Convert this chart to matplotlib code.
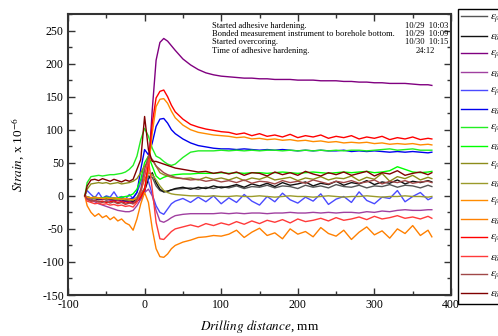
import matplotlib
matplotlib.use('Agg')
import matplotlib.pyplot as plt
from matplotlib.ticker import MultipleLocator

plt.rcParams['font.family'] = ['Liberation Serif', 'DejaVu Serif']
plt.rcParams['mathtext.fontset'] = 'stix'
plt.rcParams['axes.unicode_minus'] = False

# drilling distance (mm)
x = ([-78, -75, -70, -65, -60, -55, -50, -45, -40, -35, -30, -25, -20, -15, -10, -5]
     + [0, 5, 10, 15, 20, 25, 30, 35, 40, 50, 60, 70, 80, 90, 100]
     + [110, 120, 130, 140, 150, 160, 170, 180, 190, 200, 210, 220, 230, 240, 250,
        260, 270, 280, 290, 300, 310, 320, 330, 340, 350, 360, 370, 375])

# strain values (x 10^-6)
e_r1 = ([0, -2, -4, -3, -5, -4, -6, -5, -4, -6, -5, -7, -6, -8, -4, 2]
        + [12, 30, 28, 15, 8, 6, 7, 9, 10, 11, 12, 10, 13, 11, 14]
        + [12, 15, 11, 14, 13, 16, 12, 15, 14, 11, 16, 13, 15, 12, 17, 14, 13, 16, 12, 15,
           14, 17, 13, 16, 15, 12, 16, 14])
e_t1 = ([0, -3, -5, -4, -6, -5, -4, -6, -5, -7, -6, -8, -7, -9, -5, 0]
        + [8, 25, 35, 20, 10, 6, 7, 9, 11, 13, 10, 13, 11, 15, 12]
        + [14, 17, 13, 18, 15, 19, 14, 20, 16, 18, 21, 15, 19, 17, 22, 16, 20, 18, 23, 17,
           21, 19, 24, 18, 22, 20, 23, 21])
e_r2 = ([0, -2, -3, -4, -5, -5, -6, -6, -7, -7, -8, -8, -9, -10, -8, -5]
        + [5, 40, 130, 205, 232, 238, 234, 227, 220, 207, 198, 191, 186, 183, 181]
        + [180, 179, 178, 178, 177, 177, 176, 176, 176, 175, 175, 175, 174, 174, 174, 173,
           173, 172, 172, 171, 171, 170, 170, 170, 169, 168, 168, 167])
e_t2 = ([0, -3, -6, -9, -12, -14, -16, -18, -20, -22, -23, -24, -24, -22, -15, -5]
        + [5, 10, 0, -22, -38, -40, -37, -33, -30, -28, -27, -27, -27, -27, -26]
        + [-27, -26, -27, -26, -26, -27, -26, -26, -25, -26, -26, -25, -26, -25, -26, -25,
           -25, -26, -24, -25, -23, -24, -22, -21, -22, -22, -21, -21])
e_r3 = ([0, 8, 2, -3, 5, -4, 0, -2, 6, -3, -1, -5, 2, -4, 5, 20]
        + [40, 22, 2, -15, -25, -28, -20, -12, -8, -4, -10, -2, -9, 0, -12]
        + [-3, -10, 2, -8, -14, -1, -9, 4, -6, -11, -2, -8, 3, -13, -5, -1, -10, 6, -7, -12,
           -2, -4, 8, -9, -1, 5, -6, -3])
e_t3 = ([0, -2, -3, -2, -4, -3, -2, -4, -3, -5, -4, -6, -5, -3, 5, 40]
        + [70, 62, 80, 105, 116, 117, 110, 100, 94, 86, 80, 76, 74, 72, 71]
        + [71, 70, 71, 70, 69, 70, 69, 70, 69, 68, 69, 68, 69, 68, 68, 69, 67, 68, 67, 68,
           67, 66, 67, 66, 67, 66, 65, 66])
e_r4 = ([0, 20, 29, 30, 31, 30, 31, 32, 32, 33, 34, 36, 40, 46, 60, 85]
        + [102, 90, 72, 60, 57, 52, 48, 46, 48, 58, 66, 68, 68, 68, 69]
        + [68, 69, 68, 69, 68, 69, 69, 68, 69, 68, 69, 68, 69, 68, 69, 68, 69, 69, 68, 69,
           70, 71, 69, 70, 71, 69, 69, 69])
e_t4 = ([0, -2, -3, -2, -4, -3, -2, -3, -4, -3, -2, -1, 0, 3, 10, 25]
        + [50, 60, 45, 30, 25, 28, 30, 31, 32, 33, 33, 34, 34, 34, 35]
        + [34, 35, 34, 35, 35, 34, 35, 36, 35, 34, 35, 36, 35, 34, 35, 36, 35, 36, 37, 35,
           36, 38, 44, 40, 36, 35, 36, 37])
e_r5 = ([0, 10, 18, 19, 20, 19, 20, 18, 19, 20, 18, 19, 20, 22, 26, 35]
        + [45, 52, 55, 45, 35, 32, 30, 28, 27, 26, 27, 24, 28, 25, 27]
        + [24, 28, 23, 27, 25, 29, 24, 26, 28, 23, 27, 25, 29, 24, 27, 26, 30, 23, 28, 25,
           34, 22, 29, 26, 31, 24, 28, 26])
e_t5 = ([0, -2, -3, -4, -3, -4, -5, -4, -5, -6, -5, -6, -7, -6, -2, 8]
        + [25, 35, 32, 24, 15, 8, 5, 3, 2, 1, 0, 0, -1, 0, -1]
        + [-1, 0, -1, -1, 0, -1, -2, -1, 0, -1, -1, -2, -1, 0, -1, -2, -1, -1, 0, -1,
           -2, -1, -1, 0, -1, -1, -2, -1])
e_r6 = ([0, -2, -3, -2, -3, -4, -3, -4, -3, -4, -5, -4, -5, -6, -4, 0]
        + [10, 40, 95, 135, 146, 147, 140, 128, 118, 107, 100, 96, 94, 92, 91]
        + [90, 88, 89, 86, 87, 85, 86, 84, 85, 83, 84, 82, 83, 81, 82, 80, 81, 80, 81, 79,
           80, 78, 79, 78, 79, 77, 78, 77])
e_t6 = ([0, -15, -25, -31, -27, -33, -30, -36, -32, -38, -35, -41, -44, -52, -35, -12]
        + [5, -10, -50, -80, -92, -93, -88, -80, -75, -70, -67, -63, -62, -60, -61]
        + [-58, -52, -63, -55, -49, -60, -56, -65, -50, -58, -54, -62, -48, -57, -61, -52,
           -66, -55, -47, -59, -53, -64, -50, -57, -45, -60, -52, -62])
e_r7 = ([0, -5, -8, -7, -9, -8, -10, -9, -8, -10, -9, -11, -10, -12, -8, -2]
        + [10, 50, 110, 148, 158, 160, 150, 137, 127, 116, 108, 104, 101, 99, 97]
        + [96, 93, 95, 91, 94, 90, 92, 89, 93, 88, 91, 89, 92, 87, 90, 88, 91, 86, 89, 87,
           90, 85, 88, 86, 89, 85, 87, 86])
e_t7 = ([0, -8, -10, -12, -11, -13, -12, -14, -13, -15, -14, -16, -15, -17, -10, 5]
        + [30, 55, 10, -40, -65, -66, -60, -54, -50, -47, -44, -47, -42, -45, -41]
        + [-44, -39, -43, -38, -42, -37, -40, -36, -41, -35, -39, -37, -34, -38, -33, -37,
           -35, -32, -36, -31, -35, -33, -30, -34, -32, -35, -31, -34])
e_r8 = ([0, -5, -8, -7, -9, -10, -8, -11, -9, -12, -10, -13, -11, -12, -5, 10]
        + [40, 60, 55, 45, 40, 35, 32, 30, 28, 26, 24, 25, 22, 24, 21]
        + [23, 20, 24, 19, 22, 21, 18, 23, 20, 22, 19, 24, 21, 18, 22, 20, 23, 19, 21, 24,
           18, 22, 20, 23, 19, 21, 22, 20])
e_t8 = ([0, 15, 24, 25, 23, 26, 24, 22, 25, 23, 21, 24, 22, 25, 40, 55]
        + [120, 70, 52, 52, 50, 48, 46, 44, 42, 40, 38, 36, 37, 34, 36]
        + [33, 36, 31, 35, 34, 30, 36, 32, 35, 31, 37, 33, 30, 35, 32, 36, 31, 34, 37, 30,
           35, 33, 38, 31, 34, 36, 32, 35])

series = [e_r1, e_t1, e_r2, e_t2, e_r3, e_t3, e_r4, e_t4,
          e_r5, e_t5, e_r6, e_t6, e_r7, e_t7, e_r8, e_t8]
labels = [r'$\varepsilon_{\rho 1}$', r'$\varepsilon_{\theta 1}$',
          r'$\varepsilon_{\rho 2}$', r'$\varepsilon_{\theta 2}$',
          r'$\varepsilon_{\rho 3}$', r'$\varepsilon_{\theta 3}$',
          r'$\varepsilon_{\rho 4}$', r'$\varepsilon_{\theta 4}$',
          r'$\varepsilon_{\rho 5}$', r'$\varepsilon_{\theta 5}$',
          r'$\varepsilon_{\rho 6}$', r'$\varepsilon_{\theta 6}$',
          r'$\varepsilon_{\rho 7}$', r'$\varepsilon_{\theta 7}$',
          r'$\varepsilon_{\rho 8}$', r'$\varepsilon_{\theta 8}$']
colors = ['#555555', '#111111', '#800080', '#a040a0', '#4a4aff', '#0000ee',
          '#22ee22', '#00ff00', '#8c8c1a', '#9a9a2a', '#ff8c00', '#ff8000',
          '#ff0000', '#ff3a3a', '#a04848', '#800000']

notes = ['Started adhesive hardening.',
         'Bonded measurement instrument to borehole bottom.',
         'Started overcoring.',
         'Time of adhesive hardening.']
times = ['10/29  10:03', '10/29  10:09', '10/30  10:15', '24:12']

fig = plt.figure(figsize=(4.98, 3.36), dpi=100)
ax = fig.add_axes([68 / 498, 1 - 295 / 336, 383 / 498, 281 / 336])

handles = []
for y, c, lab in zip(series, colors, labels):
    h, = ax.plot(x, y, color=c, lw=1.0, label=lab)
    handles.append(h)

ax.set_xlim(-100, 400)
ax.set_ylim(-150, 275)
ax.xaxis.set_major_locator(MultipleLocator(100))
ax.xaxis.set_minor_locator(MultipleLocator(50))
ax.yaxis.set_major_locator(MultipleLocator(50))
ax.yaxis.set_minor_locator(MultipleLocator(25))
ax.tick_params(which='both', direction='in', top=True, right=True,
               labelsize=8.5, pad=3, color='#333333', width=1)
ax.tick_params(which='major', length=5)
ax.tick_params(which='minor', length=3)
for sp in ax.spines.values():
    sp.set_linewidth(1.5)
    sp.set_color('#333333')

ax.set_xlabel(r'$\mathit{Drilling\ distance}$, mm', fontsize=9.5, labelpad=5)
ax.set_ylabel(r'$\mathit{Strain}$, x 10$^{-6}$', fontsize=9.5, labelpad=11)

rows = [0.958, 0.928, 0.902, 0.870]
for yy, n in zip(rows, notes):
    ax.text(0.376, yy, n, transform=ax.transAxes, fontsize=6.1, va='center')
right = [0.992, 0.992, 0.992, 0.958]
for yy, xx, t in zip(rows, right, times):
    ax.text(xx, yy, t, transform=ax.transAxes, fontsize=6.1, va='center', ha='right')

fig.legend(handles, labels, loc='upper left', bbox_to_anchor=(458 / 498, 1 - 9 / 336),
           fontsize=8, handlelength=2.3, handletextpad=0.3, labelspacing=0.55,
           borderpad=0.3, fancybox=False, edgecolor='black', framealpha=1,
           borderaxespad=0)

fig.savefig('out.png', dpi=100)
